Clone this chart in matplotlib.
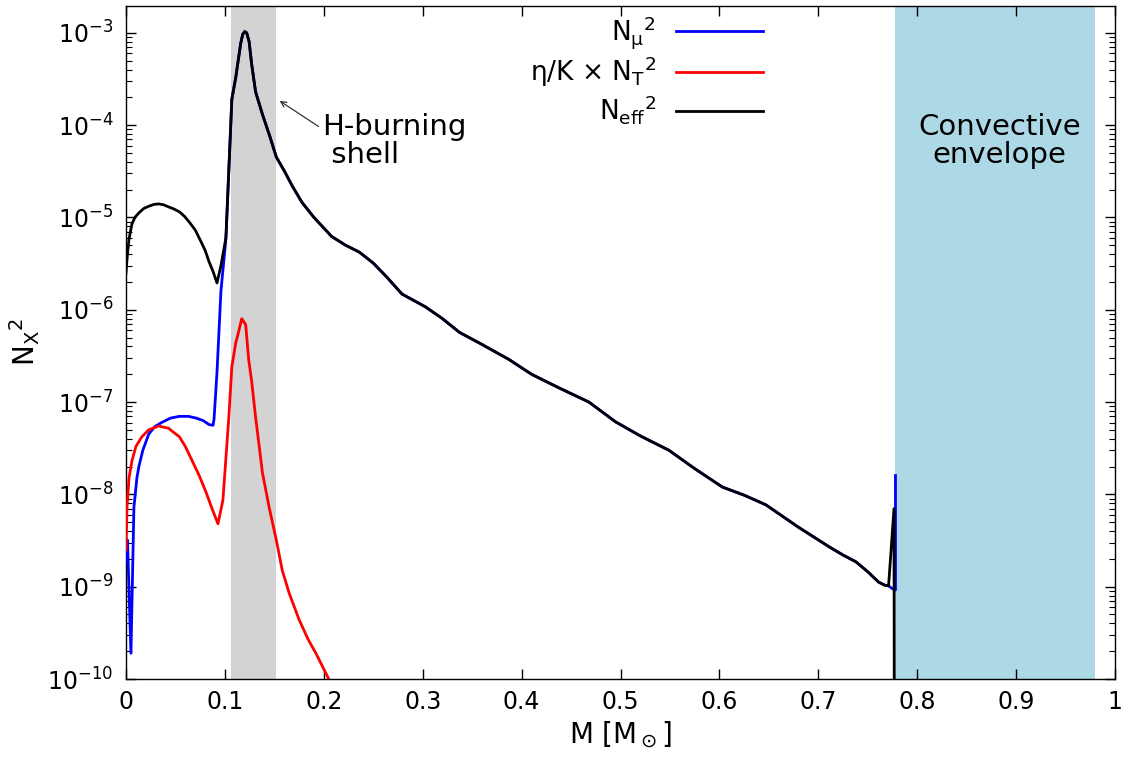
import matplotlib
matplotlib.use("Agg")
import matplotlib.pyplot as plt
import numpy as np

plt.rcParams['font.family'] = ['DejaVu Sans']
plt.rcParams['mathtext.default'] = 'regular'

# N_eff^2 (black)
m_eff = [0.0, 0.001, 0.003, 0.006, 0.009, 0.013, 0.018, 0.023, 0.028, 0.033, 0.038, 0.043, 0.048,
         0.054, 0.059, 0.064, 0.070, 0.075, 0.080, 0.084, 0.088, 0.092,
         0.096, 0.101, 0.104, 0.107, 0.111, 0.116, 0.118, 0.120, 0.122, 0.1245, 0.127, 0.131, 0.138,
         0.145, 0.152, 0.160, 0.168, 0.178, 0.190, 0.208, 0.222, 0.236, 0.250, 0.263, 0.279, 0.303,
         0.320, 0.337, 0.360, 0.387, 0.410, 0.438, 0.468, 0.495, 0.520, 0.549, 0.575, 0.603, 0.625,
         0.647, 0.680, 0.711, 0.725, 0.738, 0.750, 0.761, 0.767, 0.771, 0.7765, 0.777]
n_eff = [2.5e-6, 3.5e-6, 5.8e-6, 8.5e-6, 1.0e-5, 1.12e-5, 1.25e-5, 1.32e-5, 1.38e-5, 1.4e-5, 1.37e-5, 1.3e-5, 1.24e-5,
         1.15e-5, 1.03e-5, 8.9e-6, 7.3e-6, 5.7e-6, 4.4e-6, 3.3e-6, 2.6e-6, 1.95e-6,
         3.0e-6, 6.0e-6, 3.3e-5, 1.9e-4, 3.3e-4, 7.7e-4, 9.6e-4, 1.03e-3, 1.0e-3, 8.0e-4, 4.6e-4, 2.3e-4, 1.3e-4,
         7.8e-5, 4.5e-5, 3.2e-5, 2.2e-5, 1.45e-5, 1.0e-5, 6.2e-6, 5.0e-6, 4.2e-6, 3.2e-6, 2.3e-6, 1.48e-6, 1.07e-6,
         8.0e-7, 5.7e-7, 4.2e-7, 2.9e-7, 2.0e-7, 1.42e-7, 1.0e-7, 6.1e-8, 4.3e-8, 3.0e-8, 1.9e-8, 1.2e-8, 9.8e-9,
         7.7e-9, 4.4e-9, 2.7e-9, 2.2e-9, 1.86e-9, 1.45e-9, 1.12e-9, 1.04e-9, 1.02e-9, 7.0e-9, 1e-12]

# N_mu^2 (blue): core part, then it follows N_eff^2, then the jump at the envelope base
m_mu_core = [0.0, 0.0015, 0.005, 0.008, 0.011, 0.013, 0.017, 0.023, 0.029, 0.036, 0.045, 0.054,
             0.063, 0.071, 0.078, 0.084, 0.088, 0.089, 0.092, 0.096, 0.101]
n_mu_core = [1.9e-9, 3.2e-9, 1.9e-10, 7.2e-9, 1.5e-8, 2.0e-8, 3.0e-8, 4.5e-8, 5.4e-8, 6.0e-8, 6.7e-8, 7.0e-8,
             7.0e-8, 6.7e-8, 6.3e-8, 5.7e-8, 5.6e-8, 6.5e-8, 2.1e-7, 1.6e-6, 5.8e-6]
m_mu_edge = [0.775, 0.778, 0.778]
n_mu_edge = [9.5e-10, 9.2e-10, 1.6e-8]

# eta/K x N_T^2 (red)
m_T = [0.0, 0.001, 0.003, 0.006, 0.010, 0.016, 0.023, 0.033, 0.043, 0.054, 0.060, 0.067, 0.074,
       0.081, 0.087, 0.093, 0.098, 0.104, 0.107, 0.111, 0.113, 0.117, 0.121, 0.124, 0.127, 0.131,
       0.138, 0.145, 0.152, 0.158, 0.165, 0.175, 0.184, 0.192, 0.205, 0.215]
n_T = [2.5e-9, 7.2e-9, 1.5e-8, 2.3e-8, 3.3e-8, 4.2e-8, 5.0e-8, 5.5e-8, 5.2e-8, 4.2e-8, 3.3e-8, 2.3e-8, 1.6e-8,
       1.05e-8, 7.0e-9, 4.8e-9, 8.7e-9, 6.9e-8, 2.4e-7, 4.4e-7, 5.3e-7, 8.0e-7, 6.9e-7, 2.9e-7, 1.7e-7, 6.9e-8,
       1.7e-8, 7.0e-9, 3.2e-9, 1.5e-9, 8.5e-10, 4.4e-10, 2.7e-10, 1.9e-10, 1.0e-10, 6e-11]

h_shell = (0.106, 0.152)
conv_env = (0.778, 0.980)

i0 = m_eff.index(0.104)
m_mu = m_mu_core + m_eff[i0:-2] + m_mu_edge
n_mu = n_mu_core + n_eff[i0:-2] + n_mu_edge

fig = plt.figure(figsize=(11.27, 7.59), dpi=100)
ax = fig.add_axes([0.1118, 0.1054, 0.8776, 0.8867])

ax.axvspan(*h_shell, color='#d3d3d3', lw=0, zorder=0)
ax.axvspan(*conv_env, color='#add8e6', lw=0, zorder=0)

ax.plot(m_mu, n_mu, color='#0000ff', lw=2, label=r'N$_\mu$$^2$', zorder=3)
ax.plot(m_T, n_T, color='#ff0000', lw=2, label=r'η/K × N$_T$$^2$', zorder=3)
ax.plot(m_eff, n_eff, color='black', lw=2, label=r'N$_{eff}$$^2$', zorder=4)

ax.set_yscale('log')
ax.set_xlim(0, 1)
ax.set_ylim(1e-10, 1.95e-3)

xt = np.round(np.arange(0, 1.01, 0.1), 1)
ax.set_xticks(xt)
ax.set_xticklabels(['0', '0.1', '0.2', '0.3', '0.4', '0.5', '0.6', '0.7', '0.8', '0.9', '1'])
ax.tick_params(which='both', direction='in', top=True, right=True, labelsize=17)
ax.tick_params(which='major', length=7, width=1)
ax.tick_params(which='minor', length=4, width=0.8)
ax.tick_params(axis='x', pad=8)
ax.tick_params(axis='y', pad=9)
for s in ax.spines.values():
    s.set_linewidth(1)

ax.set_xlabel(r'M [M$_\odot$]', fontsize=20, labelpad=4)
ax.set_ylabel(r'N$_X$$^2$', fontsize=20, labelpad=4)

ax.text(0.198, 6.8e-5, 'H-burning\n shell', fontsize=21, ha='left', va='center', linespacing=1.0)
ax.annotate('', xy=(0.153, 1.9e-4), xytext=(0.197, 9.3e-5),
            arrowprops=dict(arrowstyle='->', color='#333333', lw=0.9))
ax.text(0.883, 6.8e-5, 'Convective\nenvelope', fontsize=21, ha='center', va='center', linespacing=1.0)

ax.legend(loc='upper right', bbox_to_anchor=(0.644, 0.988), markerfirst=False, frameon=False,
          handlelength=3.3, fontsize=19, labelspacing=0.15, borderaxespad=0, borderpad=0,
          handletextpad=0.75)

fig.savefig('out.png', dpi=100)
